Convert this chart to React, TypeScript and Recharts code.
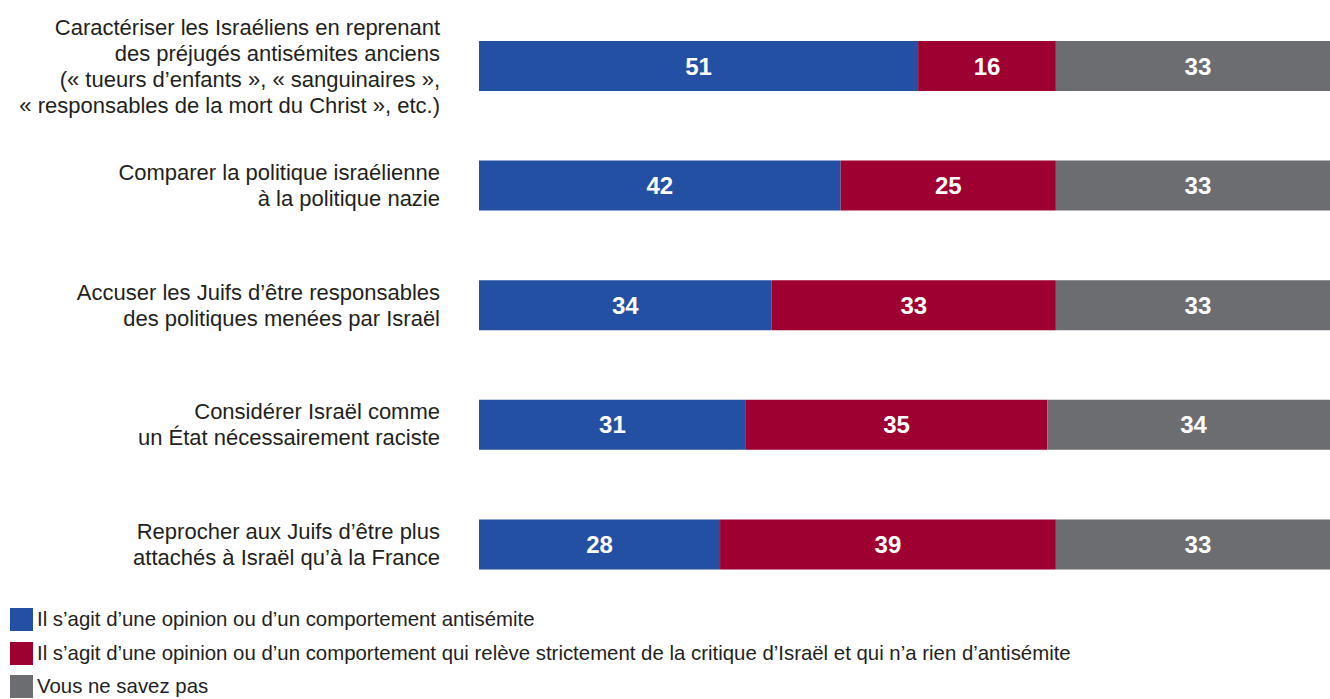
import React from 'react';
import { BarChart, Bar, XAxis, YAxis, LabelList, Legend } from 'recharts';

const categories = [
  'Caractériser les Israéliens en reprenant\ndes préjugés antisémites anciens\n(« tueurs d’enfants », « sanguinaires »,\n« responsables de la mort du Christ », etc.)',
  'Comparer la politique israélienne\nà la politique nazie',
  'Accuser les Juifs d’être responsables\ndes politiques menées par Israël',
  'Considérer Israël comme\nun État nécessairement raciste',
  'Reprocher aux Juifs d’être plus\nattachés à Israël qu’à la France',
];
const antisemite = [51, 42, 34, 31, 28];
const critique = [16, 25, 33, 35, 39];
const nesaitpas = [33, 33, 33, 34, 33];

const seriesNames = [
  'Il s’agit d’une opinion ou d’un comportement antisémite',
  'Il s’agit d’une opinion ou d’un comportement qui relève strictement de la critique d’Israël et qui n’a rien d’antisémite',
  'Vous ne savez pas',
];
const colors = ['#2450a4', '#9e0031', '#6c6d71'];

const data = categories.map((label, i) => ({
  label,
  a: antisemite[i],
  c: critique[i],
  n: nesaitpas[i],
}));

const FONT = '"Liberation Sans Narrow", "Arial Narrow", "Liberation Sans", sans-serif';

const LabelTick = ({ x, y, payload }: any) => {
  const lines: string[] = String(payload.value).split('\n');
  const lh = 26;
  const start = y - ((lines.length - 1) * lh) / 2;
  return (
    <text x={x} y={start} textAnchor="end" fill="#231f20" fontSize={22} fontFamily={FONT}>
      {lines.map((l, i) => (
        <tspan key={i} x={x} y={start + i * lh} dy="0.35em">
          {l}
        </tspan>
      ))}
    </text>
  );
};

const CustomLegend = () => (
  <div style={{ fontFamily: FONT, fontSize: 20.4, color: '#231f20' }}>
    {seriesNames.map((name, i) => (
      <div key={i} style={{ display: 'flex', alignItems: 'center', height: 33.5 }}>
        <div style={{ width: 23, height: 23, backgroundColor: colors[i], marginRight: 4 }} />
        <span>{name}</span>
      </div>
    ))}
  </div>
);

const App: React.FC = () => {
  return (
    <div style={{ position: 'fixed', left: 0, top: 0, width: 1330, height: 699, overflow: 'hidden', background: '#fff' }}>
      <BarChart
        width={1345}
        height={699}
        data={data}
        layout="vertical"
        barSize={50}
        margin={{ top: 6, right: 5, bottom: 95, left: 0 }}
      >
        <XAxis type="number" domain={[0, 100]} hide />
        <YAxis
          type="category"
          dataKey="label"
          width={479}
          tickLine={false}
          axisLine={false}
          tickSize={0}
          tickMargin={39}
          tick={<LabelTick />}
          interval={0}
        />
        <Legend
          layout="vertical"
          align="center"
          verticalAlign="middle"
          content={<CustomLegend />}
          wrapperStyle={{ left: 10, top: 603, width: 1300, height: 100 }}
        />
        {(['a', 'c', 'n'] as const).map((key, i) => (
          <Bar key={key} dataKey={key} stackId="s" fill={colors[i]} isAnimationActive={false}>
            <LabelList
              dataKey={key}
              position="center"
              fill="#ffffff"
              fontSize={24}
              fontWeight="bold"
              fontFamily={FONT}
            />
          </Bar>
        ))}
      </BarChart>
    </div>
  );
};

export default App;
